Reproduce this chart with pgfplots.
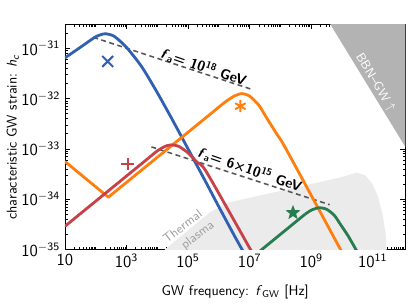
\documentclass[border=0pt]{standalone}
\usepackage{pgfplots}
\pgfplotsset{compat=1.18}
\renewcommand{\familydefault}{\sfdefault}
\definecolor{cblue}{RGB}{48,96,178}
\definecolor{corange}{RGB}{255,127,14}
\definecolor{cred}{RGB}{200,64,72}
\definecolor{cgreen}{RGB}{40,125,80}
\definecolor{cdash}{RGB}{85,85,85}
\definecolor{bbngray}{RGB}{179,179,179}
\definecolor{thermgray}{RGB}{235,235,235}
\definecolor{thermtext}{RGB}{160,160,160}
\pgfdeclareplotmark{fstar}{%
  \pgfpathmoveto{\pgfpointpolar{90}{\pgfplotmarksize}}%
  \pgfpathlineto{\pgfpointpolar{126}{0.42\pgfplotmarksize}}%
  \pgfpathlineto{\pgfpointpolar{162}{\pgfplotmarksize}}%
  \pgfpathlineto{\pgfpointpolar{198}{0.42\pgfplotmarksize}}%
  \pgfpathlineto{\pgfpointpolar{234}{\pgfplotmarksize}}%
  \pgfpathlineto{\pgfpointpolar{270}{0.42\pgfplotmarksize}}%
  \pgfpathlineto{\pgfpointpolar{306}{\pgfplotmarksize}}%
  \pgfpathlineto{\pgfpointpolar{342}{0.42\pgfplotmarksize}}%
  \pgfpathlineto{\pgfpointpolar{18}{\pgfplotmarksize}}%
  \pgfpathlineto{\pgfpointpolar{54}{0.42\pgfplotmarksize}}%
  \pgfpathclose
  \pgfusepathqfill}
\def\xminorlist{1e2,1e4,1e6,1e8,1e10,1e12}
\foreach \d in {1,...,11}{\foreach \m in {2,...,9}{\xdef\xminorlist{\xminorlist,\m e\d}}}
\def\yminorlist{2e-36}
\foreach \d in {-35,...,-31}{\foreach \m in {2,...,9}{\xdef\yminorlist{\yminorlist,\m e\d}}}
\begin{document}
\begin{tikzpicture}
\begin{axis}[
  xmode=log, ymode=log,
  scale only axis, width=242pt, height=160pt,
  xmin=10, xmax=1.15e12, ymin=1e-35, ymax=3e-31,
  xtick={1e1,1e3,1e5,1e7,1e9,1e11},
  xticklabels={$\mathsf{10}$,$\mathsf{10^{3}}$,$\mathsf{10^{5}}$,$\mathsf{10^{7}}$,$\mathsf{10^{9}}$,$\mathsf{10^{11}}$},
  ytick={1e-35,1e-34,1e-33,1e-32,1e-31},
  yticklabels={$\mathsf{10^{-35}}$,$\mathsf{10^{-34}}$,$\mathsf{10^{-33}}$,$\mathsf{10^{-32}}$,$\mathsf{10^{-31}}$},
  tick label style={font=\fontsize{12}{14}\selectfont},
  minor xtick/.expanded={\xminorlist},
  minor ytick/.expanded={\yminorlist},
  major tick length=3.5pt, minor tick length=2pt,
  every tick/.style={black, line width=0.5pt},
  axis line style={line width=0.6pt},
  xlabel={GW frequency: \textit{f}\textsubscript{GW} [Hz]},
  ylabel={characteristic GW strain: \textit{h}\textsubscript{\textit{c}}},
  every axis y label/.style={at={(rel axis cs:0,0.5)}, xshift=-37pt, rotate=90, anchor=center},
  every axis x label/.style={at={(rel axis cs:0.5,0)}, yshift=-30.5pt, anchor=center},
  every axis plot/.append style={line join=round},
]
% shaded regions
\addplot[draw=none, fill=thermgray] coordinates {
 (1.778e4,3.162e-36) (1.778e4,1e-35) (5.129e5,5.495e-35) (1.950e6,8.511e-35)
 (8.511e9,2.692e-34) (3.020e10,3.388e-34) (5.888e10,2.951e-34) (1e11,1.950e-34)
 (1.445e11,1.175e-34) (2.089e11,5.012e-35) (2.630e11,1.995e-35) (2.818e11,1e-35)
 (2.818e11,3.162e-36)} -- cycle;
\addplot[draw=none, fill=bbngray] coordinates {
 (3.981e9,3.162e-31) (1.585e12,3.162e-31) (1.585e12,7.943e-34)} -- cycle;
% dashed lines
\addplot[cdash, line width=1.1pt, dash pattern=on 3.5pt off 2.5pt] coordinates {(83.18,1.660e-31) (1.230e7,1.514e-32)};
\addplot[cdash, line width=1.1pt, dash pattern=on 3.5pt off 2.5pt] coordinates {(6457,1.096e-33) (3.981e9,7.762e-35)};
% curves
\addplot[cblue, line width=2pt, smooth, tension=0.4] coordinates {
 (10,6.457e-32) (31.62,1.047e-31) (100,1.698e-31) (199.5,1.950e-31) (398.1,1.738e-31)
 (1000,1.047e-31) (3162,4.266e-32) (1e4,1.318e-32) (3.162e4,3.715e-33) (1e5,1e-33)
 (3.162e5,2.692e-34) (1e6,7.079e-35) (3.162e6,1.905e-35) (6.31e6,8.913e-36)};
\addplot[corange, line width=2pt] coordinates {
 (10,5.623e-34) (257.0,1.096e-34) (6.31e5,5.370e-33)};
\addplot[corange, line width=2pt, smooth, tension=0.4] coordinates {
 (6.31e5,5.370e-33) (1.585e6,8.511e-33) (3.162e6,1.122e-32) (5.623e6,1.259e-32)
 (1e7,1.122e-32) (1.995e7,7.413e-33) (3.548e7,4.169e-33) (7.943e7,1.905e-33)
 (1.585e8,9.550e-34) (1.122e10,7.762e-36)};
\addplot[cred, line width=2pt] coordinates {(10,2.884e-35) (5012,6.457e-34)};
\addplot[cred, line width=2pt, smooth, tension=0.4] coordinates {
 (5012,6.457e-34) (1e4,9.120e-34) (1.778e4,1.122e-33) (2.818e4,1.202e-33) (5.012e4,1.122e-33)
 (1e5,8.318e-34) (1.995e5,5.370e-34) (3.981e5,3.467e-34) (1.259e7,8.318e-36)};
\addplot[cgreen, line width=2pt] coordinates {(1.995e7,8.913e-36) (6.31e8,5.012e-35)};
\addplot[cgreen, line width=2pt, smooth, tension=0.4] coordinates {
 (6.31e8,5.012e-35) (1e9,6.026e-35) (1.778e9,6.761e-35) (3.162e9,6.31e-35) (5.623e9,4.786e-35)
 (8.913e9,3.162e-35) (1.585e10,1.862e-35) (3.162e10,8.913e-36)};
% markers
\addplot[only marks, mark=x, mark size=5.5pt, cblue, line width=1.4pt] coordinates {(245.5,5.495e-32)};
\addplot[only marks, mark=asterisk, mark size=4.3pt, corange, line width=1.4pt] coordinates {(5.012e6,7.079e-33)};
\addplot[only marks, mark=+, mark size=4.6pt, cred, line width=1.6pt] coordinates {(1096,5.012e-34)};
\addplot[only marks, mark=fstar, mark size=5.6pt, cgreen] coordinates {(2.57e8,5.370e-35)};
% labels
\node[rotate=-19, font=\bfseries] at (axis cs:3.236e5,4.266e-32) {\textit{f}\textsubscript{a}= 10\textsuperscript{18} GeV};
\node[rotate=-19, font=\bfseries] at (axis cs:1.023e7,3.890e-34) {\textit{f}\textsubscript{a}= 6\texttimes10\textsuperscript{15} GeV};
\node[rotate=-59, text=white, font=\fontsize{9}{10}\selectfont] at (axis cs:1.2e11,2.1e-32) {BBN--GW $\uparrow$};
\node[rotate=37, text=thermtext, align=center, font=\fontsize{9}{11}\selectfont] at (axis cs:9.772e4,2.089e-35) {Thermal\\\hspace*{10pt}plasma};
\end{axis}
\pgfresetboundingbox
\path (-46.15pt,-39.5pt) rectangle (246pt,177.3pt);
\end{tikzpicture}
\end{document}
